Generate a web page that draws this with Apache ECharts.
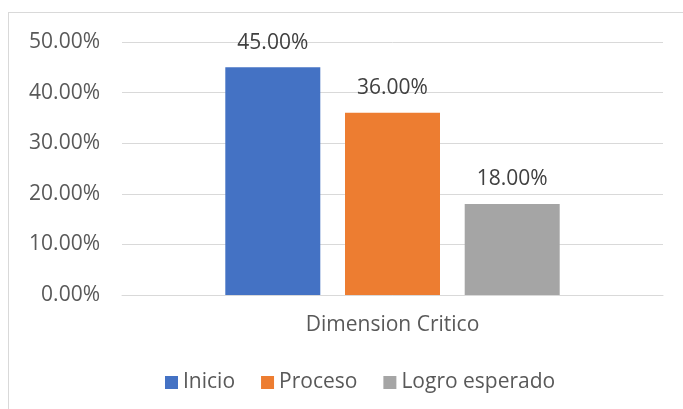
<!DOCTYPE html>
<html>
<head>
<meta charset="utf-8">
<script src="https://cdn.jsdelivr.net/npm/echarts@6/dist/echarts.min.js"></script>
<style>
  html, body { margin: 0; padding: 0; background: #fff; }
  #frame { position: absolute; left: 8px; top: 12px; width: 700px; height: 420px; border: 1px solid #d9d9d9; box-sizing: border-box; }
  #chart { position: absolute; left: 0; top: 0; width: 683px; height: 409px; }
</style>
</head>
<body>
<div id="frame"></div>
<div id="chart"></div>
<script>
const categories = ['Dimension Critico']
const seriesNames = ['Inicio', 'Proceso', 'Logro esperado']
const seriesValues = [[45], [36], [18]]
const seriesColors = ['#4472c4', '#ed7d31', '#a5a5a5']
const yTicks = [0, 10, 20, 30, 40, 50]

const fontFamily = '"Open Sans", sans-serif'

const chart = echarts.init(document.getElementById('chart'))
chart.setOption({
  animation: false,
  textStyle: { fontFamily },
  grid: { left: 122, right: 20, top: 42, bottom: 114, containLabel: false },
  legend: {
    top: 367,
    left: 160,
    itemWidth: 13,
    itemHeight: 13,
    itemGap: 26,
    icon: 'rect',
    textStyle: { fontSize: 21, color: '#595959', fontFamily },
    data: seriesNames,
  },
  xAxis: {
    type: 'category',
    data: categories,
    axisLine: { lineStyle: { color: '#d9d9d9' } },
    axisTick: { show: false },
    axisLabel: { fontSize: 21, color: '#595959', margin: 20 },
  },
  yAxis: {
    type: 'value',
    min: yTicks[0],
    max: yTicks[yTicks.length - 1],
    interval: 10,
    axisLine: { show: false },
    axisTick: { show: false },
    splitLine: { lineStyle: { color: '#d9d9d9' } },
    axisLabel: {
      fontSize: 21,
      color: '#595959',
      margin: 22,
      formatter: v => v.toFixed(2) + '%',
    },
  },
  series: seriesNames.map((name, i) => ({
    name,
    type: 'bar',
    data: seriesValues[i],
    barWidth: 95,
    barGap: '26%',
    itemStyle: { color: seriesColors[i] },
    label: {
      show: true,
      position: 'top',
      distance: 14,
      fontSize: 21,
      color: '#404040',
      formatter: p => p.value.toFixed(2) + '%',
    },
  })),
})
</script>
</body>
</html>
